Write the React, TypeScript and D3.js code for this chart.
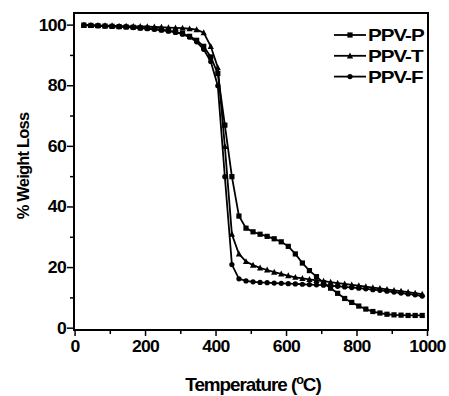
import React from "react";
import * as d3 from "d3";

const temps = [25,45,65,85,105,125,145,165,185,205,225,245,265,285,305,325,345,365,385,405,425,445,465,485,505,525,545,565,585,605,625,645,665,685,705,725,745,765,785,805,825,845,865,885,905,925,945,965,985];

const ppvP = [100,99.9,99.8,99.7,99.6,99.5,99.4,99.3,99.1,99.0,98.8,98.5,98.2,97.8,97.2,96.3,95,93,89.5,84,67,50,37,33,31.8,31,30.3,29.5,28.5,27,24.5,21.5,19,17,15,13.2,11.5,9.8,8.5,7.3,6.3,5.5,5,4.6,4.4,4.3,4.2,4.2,4.2];

const ppvT = [100,99.9,99.9,99.8,99.8,99.7,99.7,99.6,99.6,99.5,99.4,99.3,99.2,99.1,99.0,98.8,98.5,97.5,93,86,60,31,24.5,22,20.8,19.9,19.2,18.5,17.9,17.3,16.8,16.4,16.1,15.8,15.5,15.2,14.9,14.6,14.3,14.0,13.7,13.4,13.1,12.8,12.5,12.2,11.9,11.6,11.2];

const ppvF = [100,99.9,99.8,99.7,99.6,99.5,99.4,99.2,99.0,98.8,98.6,98.3,98.0,97.6,97,96,94.5,92,88,80,50,21,16.3,15.6,15.3,15.1,15,14.9,14.8,14.7,14.6,14.5,14.4,14.3,14.2,14,13.8,13.6,13.4,13.2,13,12.7,12.5,12.2,11.9,11.6,11.3,11,10.6];

const xTicks = [0,200,400,600,800,1000];
const yTicks = [0,20,40,60,80,100];
const seriesNames = ["PPV-P","PPV-T","PPV-F"];

export default function App() {
  const left = 74, right = 428, top = 13, bottom = 330;
  const x = d3.scaleLinear().domain([-3, 1000]).range([left, 427.5]);
  const y = d3.scaleLinear().domain([-0.6, 104]).range([bottom, top]);
  const series = [ppvP, ppvT, ppvF];
  const line = d3.line<number>().x((_, i) => x(temps[i])).y((d) => y(d));
  const font = "'Liberation Sans', Arial, sans-serif";

  const marker = (k: number, cx: number, cy: number, key: string, s = 2.6) => {
    if (k === 0) return <rect key={key} x={cx - s} y={cy - s} width={2 * s} height={2 * s} fill="#000" />;
    if (k === 1) {
      const p = `M${cx},${cy - s * 1.3}L${cx + s * 1.2},${cy + s}L${cx - s * 1.2},${cy + s}Z`;
      return <path key={key} d={p} fill="#000" />;
    }
    return <circle key={key} cx={cx} cy={cy} r={s} fill="#000" />;
  };

  const T = (props: { x: number; y: number; anchor?: string; size: number; sx?: number; ls?: number; children: any; k: string }) => (
    <g key={props.k} transform={`translate(${props.x},${props.y}) scale(${props.sx ?? 1.1},1)`}>
      <text x={0} y={0} textAnchor={props.anchor ?? "start"} fontFamily={font} fontWeight="bold" fontSize={props.size} letterSpacing={props.ls ?? -0.6} fill="#000">{props.children}</text>
    </g>
  );

  const xMinor = d3.range(0, 1001, 100);
  const yMinor = d3.range(0, 101, 10);

  return (
    <svg width={449} height={396} style={{ position: "absolute", left: 0, top: 0, background: "#fff" }}>
      <rect x={0} y={0} width={449} height={396} fill="#fff" />
      {series.map((s, k) => (
        <g key={k}>
          <path d={line(s) || ""} fill="none" stroke="#000" strokeWidth={1.8} />
          {s.map((v, i) => marker(k, x(temps[i]), y(v), `m${k}-${i}`))}
        </g>
      ))}
      <rect x={left} y={top} width={right - left} height={bottom - top} fill="none" stroke="#000" strokeWidth={2} />
      {xMinor.map((t) => (
        <line key={"xt" + t} x1={x(t)} x2={x(t)} y1={bottom} y2={bottom + (t % 200 === 0 ? 6 : 4)} stroke="#000" strokeWidth={1.5} />
      ))}
      {yMinor.map((t) => (
        <line key={"yt" + t} x1={left} x2={left - (t % 20 === 0 ? 7 : 4)} y1={y(t)} y2={y(t)} stroke="#000" strokeWidth={1.5} />
      ))}
      {xTicks.map((t) => T({ k: "xl" + t, x: x(t), y: 352, anchor: "middle", size: 16, children: String(t) }))}
      {yTicks.map((t) => T({ k: "yl" + t, x: 66, y: y(t) + 5.5, anchor: "end", size: 16, children: String(t) }))}
      <text transform="translate(29,166) rotate(-90)" textAnchor="middle" fontFamily={font} fontWeight="bold" fontSize={16.5} letterSpacing={-0.8} fill="#000">% Weight Loss</text>
      <g transform="translate(253,391) scale(1.05,1)">
        <text x={0} y={0} textAnchor="middle" fontFamily={font} fontWeight="bold" fontSize={18} letterSpacing={-1} fill="#000">
          Temperature (<tspan fontSize={12} dy={-7}>o</tspan><tspan dy={7}>C)</tspan>
        </text>
      </g>
      {seriesNames.map((n, k) => {
        const ly = 35 + k * 20.8;
        return (
          <g key={n}>
            <line x1={334} x2={366} y1={ly} y2={ly} stroke="#000" strokeWidth={1.8} />
            {marker(k, 350, ly, "lg" + k)}
            {T({ k: "lt" + k, x: 368, y: ly + 6, size: 16.5, sx: 1.25, ls: -0.8, children: n })}
          </g>
        );
      })}
    </svg>
  );
}
